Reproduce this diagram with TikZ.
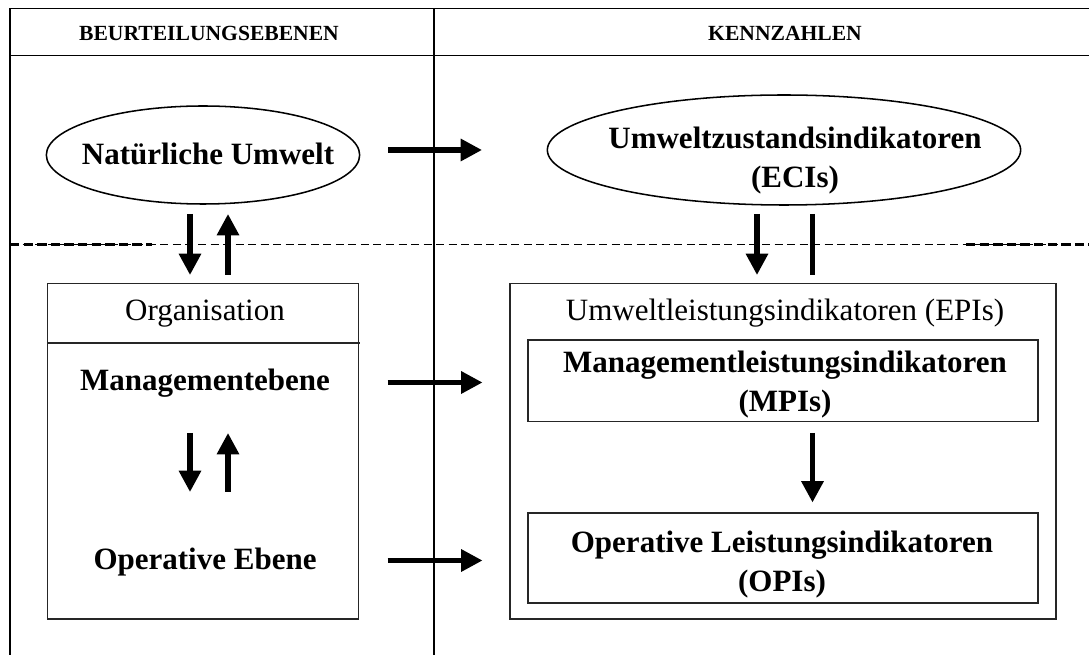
\documentclass[tikz,border=0pt]{standalone}
\usepackage{fontspec}
\setmainfont{Liberation Serif}
\usetikzlibrary{arrows.meta,shapes.geometric}

\tikzset{
  frame/.style={line width=1.15pt, draw=black},
  boxline/.style={draw=black!85, line width=1.15pt},
  ovalbox/.style={ellipse, draw=black, line width=1.15pt, inner sep=0pt},
  rectbox/.style={rectangle, boxline, inner sep=0pt},
  headtxt/.style={font=\fontsize{16.2pt}{19pt}\selectfont\bfseries, inner sep=0pt},
  bigtxt/.style={font=\fontsize{23.25pt}{29.25pt}\selectfont\bfseries, inner sep=0pt, align=center},
  plaintxt/.style={font=\fontsize{23.25pt}{29.25pt}\selectfont, inner sep=0pt},
  oneline/.style={text height=0.66em, text depth=0pt},
  fatarrow/.style={line width=3.8pt, -{Triangle[width=16pt,length=16pt]}},
  fatbar/.style={line width=3.8pt},
  sepline/.style={line width=1.0pt, dash pattern=on 6pt off 3.4pt},
  septhick/.style={line width=1.7pt, dash pattern=on 7pt off 3.2pt}
}

\begin{document}
\begin{tikzpicture}[x=0.75pt, y=-0.75pt]
\useasboundingbox (0,0) rectangle (1089,655);

% table frame: two columns with a header row
\draw[frame] (1089,8.5) -- (10,8.5) -- (10,655);
\draw[frame] (10,55.5) -- (1089,55.5);
\draw[frame] (434,8.5) -- (434,655);

\node[headtxt] (hleft) at (209,33) {BEURTEILUNGSEBENEN};
\node[headtxt] (hright) at (785,33) {KENNZAHLEN};

% boundary between environment and organisation
\draw[sepline] (10,244.5) -- (1089,244.5);
\draw[septhick] (10,244.5) -- (152,244.5);
\draw[septhick] (966,244.5) -- (1089,244.5);

% environment level
\node[ovalbox, minimum width=235pt, minimum height=73.5pt] (natur) at (203,155) {};
\node[bigtxt, oneline] (naturtxt) at (208,160) {Natürliche Umwelt};

\node[ovalbox, minimum width=355pt, minimum height=82.5pt] (eci) at (784,150) {};
\node[bigtxt] (ecitxt) at (795,161) {Umweltzustandsindikatoren\\(ECIs)};

% organisation
\node[rectbox, minimum width=233.25pt, minimum height=251.7pt] (org) at (203.2,451.2) {};
\draw[boxline] (org.west |- 0,343) -- (360,343);
\node[plaintxt, oneline] (orgtxt) at (205,316) {Organisation};
\node[bigtxt, oneline] (mgmt) at (205,386) {Managementebene};
\node[bigtxt, oneline] (oper) at (205,565) {Operative Ebene};

% indicator groups
\node[rectbox, minimum width=409.5pt, minimum height=251.7pt] (epi) at (783,451.2) {};
\node[plaintxt, oneline] (epitxt) at (785,316) {Umweltleistungsindikatoren (EPIs)};

\node[rectbox, minimum width=382.5pt, minimum height=61.1pt] (mpi) at (783,380.75) {};
\node[bigtxt] (mpitxt) at (785,385) {Managementleistungsindikatoren\\(MPIs)};

\node[rectbox, minimum width=382.5pt, minimum height=67.5pt] (opi) at (783,558) {};
\node[bigtxt] (opitxt) at (782,565) {Operative Leistungsindikatoren\\(OPIs)};

% arrow end points
\coordinate (a1s) at (388,150);   \coordinate (a1e) at (482,150);
\coordinate (d1s) at (190,214);   \coordinate (d1e) at (190,275);
\coordinate (u1s) at (228,275);   \coordinate (u1e) at (228,214);
\coordinate (d2s) at (757,214);   \coordinate (d2e) at (757,275);
\coordinate (l2s) at (812.5,214); \coordinate (l2e) at (812.5,275);
\coordinate (a2s) at (387.5,382.5); \coordinate (a2e) at (482.5,382.5);
\coordinate (a3s) at (387.5,560.5); \coordinate (a3e) at (482.5,560.5);
\coordinate (d3s) at (190,433);   \coordinate (d3e) at (190,492);
\coordinate (u3s) at (228,492);   \coordinate (u3e) at (228,433);
\coordinate (d4s) at (812.5,433); \coordinate (d4e) at (812.5,502.5);

% arrows
\draw[fatarrow] (a1s) -- (a1e);
\draw[fatarrow] (d1s) -- (d1e);
\draw[fatarrow] (u1s) -- (u1e);
\draw[fatarrow] (d2s) -- (d2e);
\draw[fatbar]   (l2s) -- (l2e);
\draw[fatarrow] (a2s) -- (a2e);
\draw[fatarrow] (a3s) -- (a3e);
\draw[fatarrow] (d3s) -- (d3e);
\draw[fatarrow] (u3s) -- (u3e);
\draw[fatarrow] (d4s) -- (d4e);
\end{tikzpicture}
\end{document}
